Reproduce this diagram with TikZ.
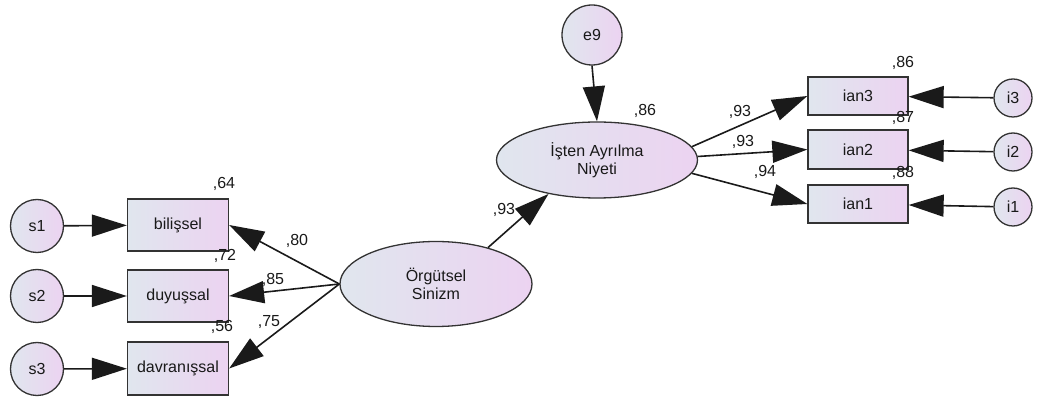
\documentclass[tikz,border=0pt]{standalone}
\usepackage{fontspec}
\setmainfont{Liberation Sans}
\usetikzlibrary{arrows.meta,shapes.geometric}
\definecolor{fillL}{HTML}{E0E6EE}
\definecolor{fillR}{HTML}{ECD3F1}
\definecolor{edge}{HTML}{333333}
\definecolor{wire}{HTML}{1A1A1A}
\tikzset{
  every node/.style={font=\fontsize{16}{17.5}\selectfont, text=black!90},
  err/.style={circle, draw=edge, line width=1.3pt, left color=fillL, right color=fillR, inner sep=0pt},
  obs/.style={rectangle, draw=edge, line width=1.3pt, left color=fillL, right color=fillR, inner sep=0pt, minimum width=101pt},
  lat/.style={ellipse, draw=edge, line width=1.3pt, left color=fillL, right color=fillR, inner sep=0pt, align=center},
  path/.style={draw=wire, line width=1.6pt, -{Triangle[length=35pt,width=22pt]}},
  lbl/.style={inner sep=0pt, font=\fontsize{16}{17.5}\selectfont}
}
\begin{document}
\begin{tikzpicture}[x=1pt,y=-1pt]
\useasboundingbox (0,0) rectangle (1037,403);
% error circles left
\node[err, minimum size=53pt] (s1) at (37,226) {s1};
\node[err, minimum size=53pt] (s2) at (37,296) {s2};
\node[err, minimum size=53pt] (s3) at (37,369) {s3};
% observed left
\node[obs, minimum height=52pt] (bil) at (178,225) {bilişsel};
\node[obs, minimum height=52pt] (duy) at (178,296) {duyuşsal};
\node[obs, minimum height=53pt] (dav) at (178,368.5) {davranışsal};
% latent
\node[lat, minimum width=192pt, minimum height=85pt] (os) at (436,284) {Örgütsel\\Sinizm};
\node[lat, minimum width=201pt, minimum height=76pt] (ian) at (597,160) {İşten Ayrılma\\Niyeti};
\node[err, minimum size=60pt] (e9) at (592,35) {e9};
% observed right
\node[obs, minimum height=38pt, minimum width=100pt] (ian3) at (858,96) {ian3};
\node[obs, minimum height=39pt, minimum width=100pt] (ian2) at (858,149.5) {ian2};
\node[obs, minimum height=38pt, minimum width=100pt] (ian1) at (858,204) {ian1};
\node[err, minimum size=38pt] (i3) at (1013,98) {i3};
\node[err, minimum size=38pt] (i2) at (1013,152) {i2};
\node[err, minimum size=38pt] (i1) at (1013,207) {i1};
% paths
\draw[path] (s1) -- (bil);
\draw[path] (s2) -- (duy);
\draw[path] (s3) -- (dav);
\draw[path] (os.west) -- (bil.east);
\draw[path] (os.west) -- (duy.east);
\draw[path] (os.west) -- (dav.east);
\draw[path] (os.35) -- (ian.215);
\draw[path] (e9.south) -- (ian.north);
\draw[path] (ian.8) -- (ian3.west);
\draw[path] (ian.2) -- (ian2.west);
\draw[path] (ian.-8) -- (ian1.west);
\draw[path] (i3) -- (ian3);
\draw[path] (i2) -- (ian2);
\draw[path] (i1) -- (ian1);
% labels
\node[lbl] (l64) at (224,184) {,64};
\node[lbl] (l72) at (225,256) {,72};
\node[lbl] (l56) at (222,327) {,56};
\node[lbl] (l80) at (297,241) {,80};
\node[lbl] (l85) at (273,280) {,85};
\node[lbl] (l75) at (269,322) {,75};
\node[lbl] (l93s) at (504,210) {,93};
\node[lbl] (l86i) at (645,111) {,86};
\node[lbl] (l86) at (903,63) {,86};
\node[lbl] (l87) at (903,118) {,87};
\node[lbl] (l88) at (903,173) {,88};
\node[lbl] (l93a) at (740,112) {,93};
\node[lbl] (l93b) at (743,142) {,93};
\node[lbl] (l94) at (765,172) {,94};
\end{tikzpicture}
\end{document}
